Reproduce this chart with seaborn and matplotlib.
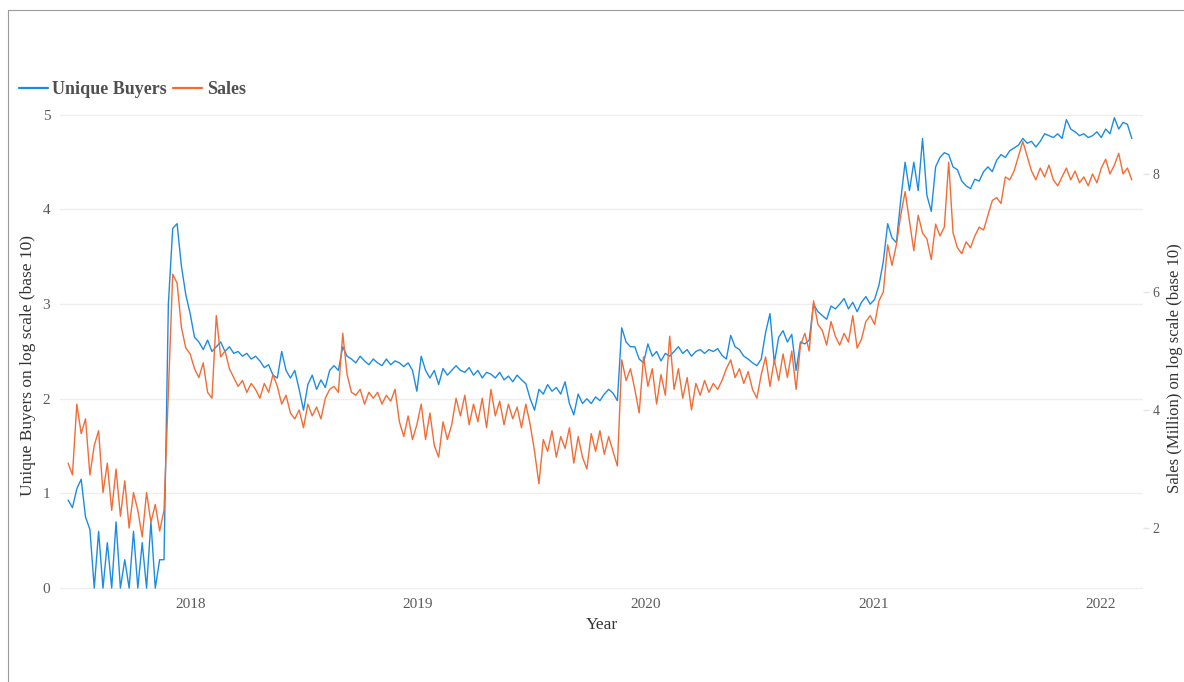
import numpy as np
import pandas as pd
import matplotlib
matplotlib.use("Agg")
import matplotlib.pyplot as plt
import seaborn as sns
from matplotlib.lines import Line2D

# ---------------- data (weekly samples) ----------------
start_date = "2017-06-18"
n_weeks = 245

unique_buyers_log = [
    0.93, 0.85, 1.05, 1.15, 0.75, 0.62, 0.0, 0.6, 0.0, 0.48,
    0.0, 0.7, 0.0, 0.3, 0.0, 0.6, 0.0, 0.48, 0.0, 0.7,
    0.0, 0.3, 0.3, 3.0, 3.8, 3.85, 3.4, 3.1, 2.9, 2.65,
    2.6, 2.52, 2.62, 2.5, 2.55, 2.6, 2.5, 2.55, 2.48, 2.5,
    2.45, 2.48, 2.42, 2.45, 2.4, 2.33, 2.36, 2.25, 2.22, 2.5,
    2.3, 2.22, 2.3, 2.1, 1.88, 2.15, 2.25, 2.1, 2.2, 2.12,
    2.3, 2.35, 2.3, 2.55, 2.45, 2.42, 2.38, 2.45, 2.4, 2.36,
    2.42, 2.38, 2.35, 2.42, 2.36, 2.4, 2.38, 2.34, 2.38, 2.3,
    2.08, 2.45, 2.3, 2.22, 2.3, 2.15, 2.32, 2.25, 2.3, 2.35,
    2.3, 2.28, 2.33, 2.25, 2.3, 2.22, 2.28, 2.26, 2.22, 2.28,
    2.2, 2.24, 2.18, 2.25, 2.2, 2.16, 2.0, 1.88, 2.1, 2.05,
    2.15, 2.08, 2.12, 2.05, 2.18, 1.95, 1.83, 2.05, 1.95, 2.0,
    1.95, 2.02, 1.98, 2.05, 2.1, 2.06, 1.98, 2.75, 2.6, 2.55,
    2.55, 2.42, 2.38, 2.58, 2.45, 2.5, 2.4, 2.48, 2.45, 2.5,
    2.55, 2.48, 2.52, 2.45, 2.5, 2.52, 2.48, 2.52, 2.5, 2.53,
    2.46, 2.42, 2.67, 2.55, 2.52, 2.45, 2.42, 2.38, 2.35, 2.42,
    2.7, 2.9, 2.38, 2.65, 2.72, 2.6, 2.68, 2.3, 2.6, 2.58,
    2.62, 3.0, 2.92, 2.88, 2.84, 2.98, 2.95, 3.0, 3.06, 2.95,
    3.02, 2.92, 3.02, 3.08, 3.0, 3.05, 3.2, 3.45, 3.85, 3.7,
    3.65, 4.1, 4.5, 4.2, 4.5, 4.2, 4.75, 4.15, 3.98, 4.45,
    4.55, 4.6, 4.58, 4.45, 4.42, 4.3, 4.25, 4.22, 4.32, 4.3,
    4.4, 4.45, 4.4, 4.52, 4.58, 4.55, 4.62, 4.65, 4.68, 4.75,
    4.7, 4.72, 4.66, 4.72, 4.8, 4.78, 4.76, 4.8, 4.75, 4.95,
    4.85, 4.82, 4.78, 4.8, 4.76, 4.78, 4.82, 4.76, 4.85, 4.8,
    4.97, 4.85, 4.92, 4.9, 4.75,
]

sales_log = [
    3.1, 2.9, 4.1, 3.6, 3.85, 2.9, 3.4, 3.65, 2.6, 3.1,
    2.3, 3.0, 2.2, 2.8, 2.0, 2.6, 2.3, 1.85, 2.6, 2.1,
    2.4, 1.95, 2.3, 4.3, 6.3, 6.15, 5.4, 5.05, 4.95, 4.7,
    4.55, 4.8, 4.3, 4.2, 5.6, 4.9, 5.0, 4.7, 4.55, 4.4,
    4.5, 4.3, 4.45, 4.35, 4.2, 4.45, 4.3, 4.6, 4.4, 4.1,
    4.25, 3.95, 3.85, 4.0, 3.7, 4.1, 3.9, 4.05, 3.85, 4.2,
    4.35, 4.4, 4.3, 5.3, 4.6, 4.3, 4.25, 4.35, 4.1, 4.3,
    4.2, 4.3, 4.1, 4.25, 4.15, 4.35, 3.8, 3.55, 3.9, 3.5,
    3.75, 4.1, 3.5, 3.95, 3.4, 3.2, 3.8, 3.5, 3.75, 4.2,
    3.9, 4.25, 3.75, 4.1, 3.8, 4.2, 3.7, 4.35, 3.9, 4.15,
    3.75, 4.1, 3.85, 4.05, 3.7, 4.1, 3.75, 3.3, 2.75, 3.5,
    3.3, 3.65, 3.2, 3.55, 3.35, 3.7, 3.1, 3.55, 3.2, 3.0,
    3.6, 3.3, 3.65, 3.25, 3.55, 3.3, 3.05, 4.85, 4.5, 4.7,
    4.35, 3.95, 4.9, 4.4, 4.7, 4.1, 4.6, 4.25, 5.25, 4.35,
    4.7, 4.2, 4.55, 4.0, 4.45, 4.25, 4.5, 4.3, 4.45, 4.35,
    4.5, 4.7, 4.85, 4.55, 4.7, 4.45, 4.65, 4.35, 4.2, 4.6,
    4.9, 4.4, 4.85, 4.5, 4.95, 4.55, 5.0, 4.35, 5.1, 5.3,
    5.0, 5.85, 5.45, 5.35, 5.1, 5.5, 5.25, 5.1, 5.3, 5.15,
    5.6, 5.05, 5.2, 5.5, 5.6, 5.45, 5.85, 6.0, 6.8, 6.45,
    6.8, 7.3, 7.7, 7.2, 6.7, 7.3, 7.0, 6.9, 6.55, 7.15,
    6.95, 7.1, 8.2, 7.0, 6.75, 6.65, 6.85, 6.75, 6.95, 7.1,
    7.05, 7.3, 7.55, 7.6, 7.5, 7.95, 7.9, 8.05, 8.3, 8.55,
    8.3, 8.05, 7.9, 8.1, 7.95, 8.15, 7.9, 7.8, 7.95, 8.1,
    7.9, 8.05, 7.85, 7.95, 7.8, 8.0, 7.85, 8.1, 8.25, 8.0,
    8.15, 8.35, 8.0, 8.1, 7.9,
]

year_ticks = [2018, 2019, 2020, 2021, 2022]
left_ticks = [0, 1, 2, 3, 4, 5]
right_ticks = [2, 4, 6, 8]
series_names = ["Unique Buyers", "Sales"]

# ---------------- styling ----------------
BLUE = "#1C8CE3"
ORANGE = "#F26C35"
TICK_GRAY = "#5a5a5a"

sns.set_theme(style="white")
plt.rcParams["font.family"] = ["Liberation Serif", "DejaVu Serif"]

dates = pd.date_range(start_date, periods=n_weeks, freq="7D")
df = pd.DataFrame({"date": dates, "buyers": unique_buyers_log, "sales": sales_log})

W, H = 1184, 682
fig = plt.figure(figsize=(W / 100, H / 100), dpi=100)
ax = fig.add_axes([60 / W, 92 / H, 1083 / W, 478 / H])

ax.set_xlim(pd.Timestamp("2017-06-05"), pd.Timestamp("2022-03-10"))
ax.set_ylim(-0.02, 5.03)

sns.lineplot(data=df, x="date", y="buyers", ax=ax, color=BLUE, lw=1.0, legend=False)

ax2 = ax.twinx()
ax2.set_ylim(0.95, 9.05)
sns.lineplot(data=df, x="date", y="sales", ax=ax2, color=ORANGE, lw=1.0, legend=False)

# grid / ticks
ax.set_yticks(left_ticks)
ax.set_yticklabels([str(t) for t in left_ticks])
ax.yaxis.grid(True, color="#eeeeee", lw=1.0)
ax.xaxis.grid(False)
ax.set_xticks([pd.Timestamp(f"{y}-01-01") for y in year_ticks])
ax.set_xticklabels([str(y) for y in year_ticks])
ax.tick_params(axis="y", length=0, pad=7, labelcolor=TICK_GRAY, labelsize=11)
ax.tick_params(axis="x", length=0, pad=6, labelcolor=TICK_GRAY, labelsize=11)

ax2.set_yticks(right_ticks)
ax2.set_yticklabels([str(t) for t in right_ticks])
ax2.grid(False)
ax2.tick_params(axis="y", length=4, width=1, color="#e3e3e3", pad=3,
                labelcolor=TICK_GRAY, labelsize=10)

for a in (ax, ax2):
    for s in a.spines.values():
        s.set_visible(False)

ax.set_xlabel("Year", fontsize=12.5, color="#333333", labelpad=4)
ax.set_ylabel("Unique Buyers on log scale (base 10)", fontsize=12.5, color="#333333")
ax.yaxis.set_label_coords((28 - 60) / 1083, 0.47)
ax.yaxis.label.set_verticalalignment("center")
ax.yaxis.label.set_horizontalalignment("center")

ax2.set_ylabel("Sales (Million) on log scale (base 10)", fontsize=12, color="#333333",
               rotation=90)
ax2.yaxis.set_label_coords((1175 - 60) / 1083, 0.465)
ax2.yaxis.label.set_verticalalignment("center")
ax2.yaxis.label.set_horizontalalignment("center")

# legend
handles = [Line2D([0], [0], color=BLUE, lw=1.6), Line2D([0], [0], color=ORANGE, lw=1.6)]
fig.legend(handles, series_names, loc="center left", bbox_to_anchor=(19 / W, 1 - 90 / H),
           ncol=2, frameon=False, prop={"weight": "bold", "size": 13},
           handlelength=1.6, handletextpad=0.25, columnspacing=0.35,
           borderpad=0, borderaxespad=0, labelcolor="#505050")

# outer frame lines
fig.add_artist(Line2D([8 / W, 1.0], [1 - 10 / H, 1 - 10 / H], transform=fig.transFigure,
                      color="#9a9a9a", lw=0.8))
fig.add_artist(Line2D([8 / W, 8 / W], [0.0, 1 - 10 / H], transform=fig.transFigure,
                      color="#9a9a9a", lw=0.8))

fig.savefig("out.png", dpi=100, facecolor="white")
